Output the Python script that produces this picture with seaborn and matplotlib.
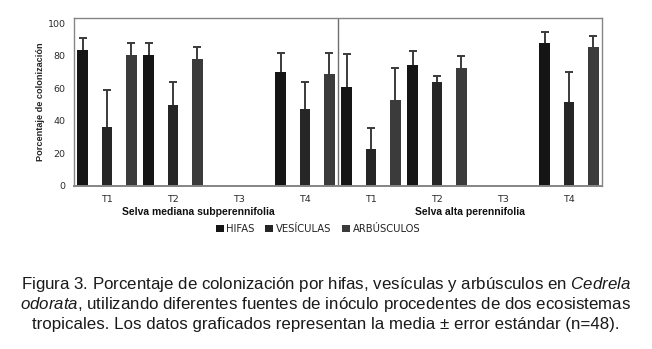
import matplotlib
matplotlib.use("Agg")
import matplotlib.pyplot as plt
import seaborn as sns
import pandas as pd
import numpy as np

# ---- data ----
treatments = ["T1", "T2", "T3", "T4"]
ecosystems = ["Selva mediana subperennifolia", "Selva alta perennifolia"]
series = ["HIFAS", "VESÍCULAS", "ARBÚSCULOS"]

hifas_mediana = [83.5, 80.7, 0, 70.0]
hifas_mediana_err = [7.6, 7.4, 0, 12.0]
vesiculas_mediana = [36.0, 49.8, 0, 46.9]
vesiculas_mediana_err = [23.0, 14.0, 0, 17.0]
arbusculos_mediana = [80.2, 78.0, 0, 69.0]
arbusculos_mediana_err = [7.4, 7.4, 0, 12.5]

hifas_alta = [61.0, 74.5, 0, 88.0]
hifas_alta_err = [20.0, 8.2, 0, 6.8]
vesiculas_alta = [22.6, 63.7, 0, 51.2]
vesiculas_alta_err = [12.9, 4.1, 0, 19.0]
arbusculos_alta = [52.9, 72.7, 0, 85.2]
arbusculos_alta_err = [19.6, 7.2, 0, 7.1]

ylabel = "Porcentaje de colonización"
caption_lines = [
    r"Figura 3. Porcentaje de colonización por hifas, vesículas y arbúsculos en $\mathit{Cedrela}$",
    r"$\mathit{odorata}$, utilizando diferentes fuentes de inóculo procedentes de dos ecosistemas",
    "tropicales. Los datos graficados representan la media ± error estándar (n=48).",
]

# ---- build table ----
vals = {
    (ecosystems[0], "HIFAS"): (hifas_mediana, hifas_mediana_err),
    (ecosystems[0], "VESÍCULAS"): (vesiculas_mediana, vesiculas_mediana_err),
    (ecosystems[0], "ARBÚSCULOS"): (arbusculos_mediana, arbusculos_mediana_err),
    (ecosystems[1], "HIFAS"): (hifas_alta, hifas_alta_err),
    (ecosystems[1], "VESÍCULAS"): (vesiculas_alta, vesiculas_alta_err),
    (ecosystems[1], "ARBÚSCULOS"): (arbusculos_alta, arbusculos_alta_err),
}
rows = []
order = []
for e_i, eco in enumerate(ecosystems):
    for t_i, t in enumerate(treatments):
        key = f"{e_i}-{t}"
        order.append(key)
        for s in series:
            v, err = vals[(eco, s)]
            rows.append({"key": key, "serie": s, "valor": v[t_i], "err": err[t_i]})
df = pd.DataFrame(rows)

# ---- style ----
sns.set_style("white")
plt.rcParams["font.family"] = ["DejaVu Sans"]
plt.rcParams["mathtext.fontset"] = "custom"
plt.rcParams["mathtext.rm"] = "Liberation Sans"
plt.rcParams["mathtext.it"] = "Liberation Sans:italic"

colors = ["#151515", "#262626", "#3b3b3b"]

fig = plt.figure(figsize=(6.52, 3.49), dpi=100)
ax = fig.add_axes([74 / 652, 1 - 185.5 / 349, (602 - 74) / 652, (185.5 - 17.7) / 349])

sns.barplot(data=df, x="key", y="valor", hue="serie", order=order,
            hue_order=series, palette=colors, width=1.11, gap=0.57,
            linewidth=0, errorbar=None, ax=ax, legend=True)

bar_containers = list(ax.containers)

# one-sided error bars from bar positions
for s_i, cont in enumerate(bar_containers):
    sub = df[df["serie"] == series[s_i]].set_index("key").loc[order]
    for bar, v, e in zip(cont, sub["valor"], sub["err"]):
        if v <= 0:
            continue
        xc = bar.get_x() + bar.get_width() / 2
        _, caps, _ = ax.errorbar([xc], [v], yerr=[[0], [e]], fmt="none",
                                 ecolor="#3a3a3a", elinewidth=1.4,
                                 capsize=2.6, capthick=1.4)
        caps[0].set_visible(False)

ax.set_ylim(0, 103.5)
ax.set_xlim(-0.5, 7.5)
ax.set_yticks([0, 20, 40, 60, 80, 100])
ax.set_xticks(range(8))
ax.set_xticklabels(treatments * 2)
ax.tick_params(axis="both", length=0, labelsize=6.8, colors="#2b2b2b", pad=6)
ax.tick_params(axis="x", pad=7)
ax.set_xlabel("")
ax.set_ylabel(ylabel, fontsize=6.6, fontweight="bold", family="Liberation Sans",
              labelpad=1.8)
for sp in ax.spines.values():
    sp.set_visible(True)
    sp.set_color("#858585")
    sp.set_linewidth(1.0)
ax.spines["bottom"].set_linewidth(1.4)
ax.axvline(3.5, color="#6e6e6e", linewidth=1.0)

# group labels
fig.text(198 / 652, 1 - 212 / 349, ecosystems[0], ha="center", va="center",
         fontsize=7.5, fontweight="bold", family="Liberation Sans", color="#111111")
fig.text(470 / 652, 1 - 212 / 349, ecosystems[1], ha="center", va="center",
         fontsize=7.5, fontweight="bold", family="Liberation Sans", color="#111111")

# legend
handles, labels = ax.get_legend_handles_labels()
if ax.get_legend() is not None:
    ax.get_legend().remove()
fig.legend(handles[:3], labels[:3], loc="center", bbox_to_anchor=(318 / 652, 1 - 229 / 349),
           ncol=3, frameon=False, fontsize=7.2, handlelength=0.8, handleheight=0.8,
           handletextpad=0.25, columnspacing=1.1, labelcolor="#222222")

# caption
baselines = [289, 309, 328.5]
for line, y in zip(caption_lines, baselines):
    fig.text(326 / 652, 1 - y / 349, line, ha="center", va="baseline", fontsize=12.2,
             family="Liberation Sans", color="#1a1a1a")

fig.savefig("out.png", dpi=100, facecolor="white")
